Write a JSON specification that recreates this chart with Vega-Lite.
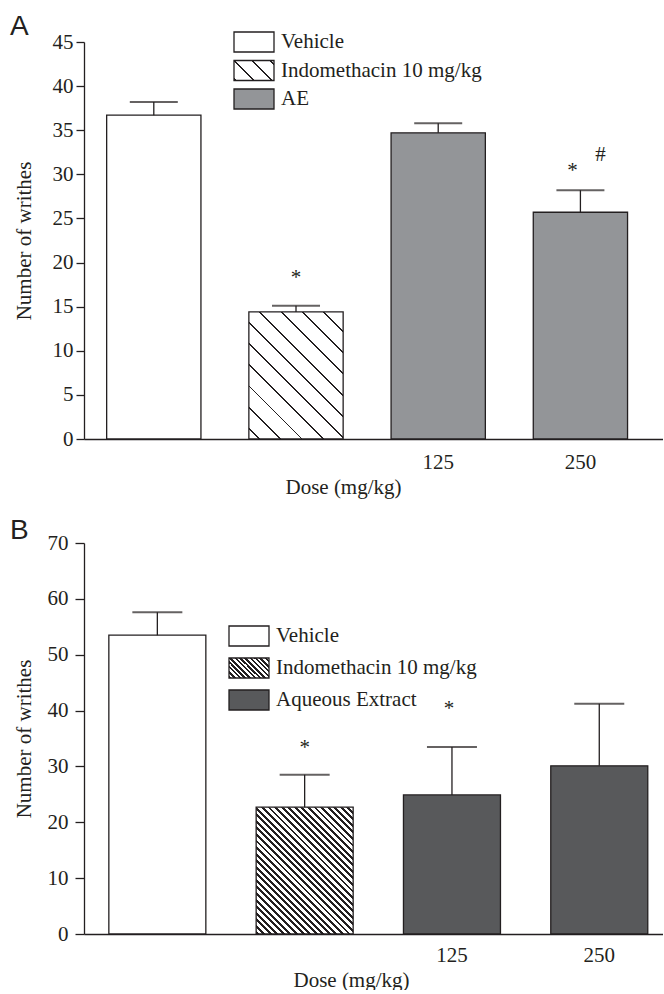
{
"$schema": "https://vega.github.io/schema/vega-lite/v6.json",
"padding": {"left": 10, "top": 13, "right": 0, "bottom": 0},
"spacing": 20,
"resolve": {"scale": {"fill": "independent"}, "legend": {"fill": "independent"}},
"config": {
  "view": {"stroke": null},
  "font": "Liberation Serif",
  "axis": {"labelFont": "Liberation Serif", "labelFontSize": 21, "titleFont": "Liberation Serif", "titleFontSize": 21, "titleFontWeight": "normal", "labelColor": "#231f20", "titleColor": "#231f20", "domainColor": "#231f20", "tickColor": "#231f20", "domainWidth": 1.3, "tickWidth": 1.3, "grid": false},
  "legend": {"labelFont": "Liberation Serif", "labelFontSize": 21, "labelColor": "#231f20", "labelLimit": 400, "symbolType": "M-2,-1H2V1H-2Z", "symbolSize": 400, "symbolStrokeColor": "#231f20", "symbolStrokeWidth": 1.3, "labelOffset": 16, "padding": 0, "orient": "none"},
  "title": {"font": "Liberation Sans", "fontSize": 28, "fontWeight": "normal", "color": "#231f20", "anchor": "start", "frame": "group", "baseline": "alphabetic", "dx": -74}
},
"vconcat": [
{
  "title": {"text": "A", "offset": -10},
  "width": 579, "height": 397,
  "data": {"values": [
    {"g": "Vehicle", "leg": "Vehicle", "m": 36.7, "hi": 38.2},
    {"g": "Indo", "leg": "Indomethacin 10 mg/kg", "m": 14.4, "hi": 15.1},
    {"g": "AE125", "leg": "AE", "m": 34.7, "hi": 35.8},
    {"g": "AE250", "leg": "AE", "m": 25.7, "hi": 28.2}
  ]},
  "encoding": {"x": {"field": "g", "type": "nominal", "scale": {"domain": ["Vehicle", "Indo", "AE125", "AE250"], "paddingInner": 0.337, "paddingOuter": 0.2043, "align": 0.39},
    "axis": {"title": "Dose (mg/kg)", "titleX": 259, "labelAngle": 0, "ticks": false, "labelPadding": 12, "labelExpr": "datum.value === 'AE125' ? '125' : datum.value === 'AE250' ? '250' : ''"}}},
  "layer": [
    {"mark": {"type": "bar", "stroke": "#231f20", "strokeWidth": 1.3},
     "encoding": {
       "y": {"field": "m", "type": "quantitative", "title": "Number of writhes", "scale": {"domain": [0, 45], "nice": false}, "axis": {"values": [0,5,10,15,20,25,30,35,40,45], "tickSize": 8, "labelPadding": 3, "titleX": -60, "titleBaseline": "middle"}},
       "fill": {"field": "leg", "type": "nominal",
         "condition": {"test": "datum.g === 'Indo'", "value": {"gradient": "linear", "x1": 0, "y1": 1, "x2": 1, "y2": -0.347, "stops": [
           {"offset": 0, "color": "#fff"},
           {"offset": 0.0365, "color": "#fff"}, {"offset": 0.0365, "color": "#231f20"}, {"offset": 0.0435, "color": "#231f20"}, {"offset": 0.0435, "color": "#fff"},
           {"offset": 0.1165, "color": "#fff"}, {"offset": 0.1165, "color": "#231f20"}, {"offset": 0.1235, "color": "#231f20"}, {"offset": 0.1235, "color": "#fff"},
           {"offset": 0.1965, "color": "#fff"}, {"offset": 0.1965, "color": "#231f20"}, {"offset": 0.2035, "color": "#231f20"}, {"offset": 0.2035, "color": "#fff"},
           {"offset": 0.2765, "color": "#fff"}, {"offset": 0.2765, "color": "#231f20"}, {"offset": 0.2835, "color": "#231f20"}, {"offset": 0.2835, "color": "#fff"},
           {"offset": 0.3565, "color": "#fff"}, {"offset": 0.3565, "color": "#231f20"}, {"offset": 0.3635, "color": "#231f20"}, {"offset": 0.3635, "color": "#fff"},
           {"offset": 0.4365, "color": "#fff"}, {"offset": 0.4365, "color": "#231f20"}, {"offset": 0.4435, "color": "#231f20"}, {"offset": 0.4435, "color": "#fff"},
           {"offset": 0.5165, "color": "#fff"}, {"offset": 0.5165, "color": "#231f20"}, {"offset": 0.5235, "color": "#231f20"}, {"offset": 0.5235, "color": "#fff"},
           {"offset": 0.5965, "color": "#fff"}, {"offset": 0.5965, "color": "#231f20"}, {"offset": 0.6035, "color": "#231f20"}, {"offset": 0.6035, "color": "#fff"},
           {"offset": 0.6765, "color": "#fff"}, {"offset": 0.6765, "color": "#231f20"}, {"offset": 0.6835, "color": "#231f20"}, {"offset": 0.6835, "color": "#fff"},
           {"offset": 0.7565, "color": "#fff"}, {"offset": 0.7565, "color": "#231f20"}, {"offset": 0.7635, "color": "#231f20"}, {"offset": 0.7635, "color": "#fff"},
           {"offset": 0.8365, "color": "#fff"}, {"offset": 0.8365, "color": "#231f20"}, {"offset": 0.8435, "color": "#231f20"}, {"offset": 0.8435, "color": "#fff"},
           {"offset": 0.9165, "color": "#fff"}, {"offset": 0.9165, "color": "#231f20"}, {"offset": 0.9235, "color": "#231f20"}, {"offset": 0.9235, "color": "#fff"},
           {"offset": 1, "color": "#fff"}]}},
         "scale": {"domain": ["Vehicle", "Indomethacin 10 mg/kg", "AE"], "range": ["#ffffff", {"expr": "{gradient: 'linear', x1: 0, y1: 1, x2: 1.2, y2: 0.4, stops: [{offset: 0, color: '#fff'}, {offset: 0.019, color: '#fff'}, {offset: 0.019, color: '#231f20'}, {offset: 0.047, color: '#231f20'}, {offset: 0.047, color: '#fff'}, {offset: 0.319, color: '#fff'}, {offset: 0.319, color: '#231f20'}, {offset: 0.347, color: '#231f20'}, {offset: 0.347, color: '#fff'}, {offset: 0.619, color: '#fff'}, {offset: 0.619, color: '#231f20'}, {offset: 0.647, color: '#231f20'}, {offset: 0.647, color: '#fff'}, {offset: 0.919, color: '#fff'}, {offset: 0.919, color: '#231f20'}, {offset: 0.947, color: '#231f20'}, {offset: 0.947, color: '#fff'}, {offset: 1, color: '#fff'}]}"}, "#939598"]},
         "legend": {"title": null, "legendX": 159, "legendY": -11, "rowPadding": 2.5}
       }
     }},
    {"mark": {"type": "rule", "color": "#231f20", "strokeWidth": 1.3},
     "encoding": {"y": {"field": "m", "type": "quantitative", "title": "Number of writhes"}, "y2": {"field": "hi"}}},
    {"mark": {"type": "tick", "color": "#231f20", "thickness": 2, "size": 48},
     "encoding": {"y": {"field": "hi", "type": "quantitative", "title": "Number of writhes"}}},
    {"data": {"values": [{"g": "Indo", "pos": 17.6, "txt": "*"}]},
     "mark": {"type": "text", "font": "Liberation Serif", "fontSize": 21, "baseline": "alphabetic", "color": "#231f20"},
     "encoding": {"y": {"field": "pos", "type": "quantitative", "title": "Number of writhes"}, "text": {"field": "txt"}}},
    {"data": {"values": [{"g": "AE250", "pos": 29.7, "txt": "*"}]},
     "mark": {"type": "text", "font": "Liberation Serif", "fontSize": 21, "baseline": "alphabetic", "color": "#231f20", "dx": -8},
     "encoding": {"y": {"field": "pos", "type": "quantitative", "title": "Number of writhes"}, "text": {"field": "txt"}}},
    {"data": {"values": [{"g": "AE250", "pos": 31.5, "txt": "#"}]},
     "mark": {"type": "text", "font": "Liberation Serif", "fontSize": 21, "baseline": "alphabetic", "color": "#231f20", "dx": 20},
     "encoding": {"y": {"field": "pos", "type": "quantitative", "title": "Number of writhes"}, "text": {"field": "txt"}}}
  ]
},
{
  "title": {"text": "B", "offset": -13},
  "width": 579, "height": 391,
  "data": {"values": [
    {"g": "Vehicle", "leg": "Vehicle", "m": 53.5, "hi": 57.6},
    {"g": "Indo", "leg": "Indomethacin 10 mg/kg", "m": 22.7, "hi": 28.5},
    {"g": "AE125", "leg": "Aqueous Extract", "m": 24.9, "hi": 33.5},
    {"g": "AE250", "leg": "Aqueous Extract", "m": 30.1, "hi": 41.2}
  ]},
  "encoding": {"x": {"field": "g", "type": "nominal", "scale": {"domain": ["Vehicle", "Indo", "AE125", "AE250"], "paddingInner": 0.3415, "paddingOuter": 0.136, "align": 0.62},
    "axis": {"title": "Dose (mg/kg)", "titleX": 267, "labelAngle": 0, "ticks": false, "labelPadding": 10, "labelExpr": "datum.value === 'AE125' ? '125' : datum.value === 'AE250' ? '250' : ''"}}},
  "layer": [
    {"mark": {"type": "bar", "stroke": "#231f20", "strokeWidth": 1.3},
     "encoding": {
       "y": {"field": "m", "type": "quantitative", "title": "Number of writhes", "scale": {"domain": [0, 70], "nice": false}, "axis": {"values": [0,5,10,15,20,25,30,35,40,45,50,55,60,65,70], "labelExpr": "datum.value % 10 === 0 ? datum.label : ''", "tickSize": {"condition": {"test": "datum.value % 10 === 0", "value": 9}, "value": 5}, "labelPadding": 7, "titleX": -60, "titleBaseline": "middle"}},
       "fill": {"field": "leg", "type": "nominal",
         "condition": {"test": "datum.g === 'Indo'", "value": {"gradient": "linear", "x1": 0, "y1": 1, "x2": 1, "y2": -0.307, "stops": [
           {"offset": 0, "color": "#231f20"}, {"offset": 0.011, "color": "#231f20"}, {"offset": 0.011, "color": "#fff"}, {"offset": 0.025, "color": "#fff"},
           {"offset": 0.025, "color": "#231f20"}, {"offset": 0.036, "color": "#231f20"}, {"offset": 0.036, "color": "#fff"}, {"offset": 0.05, "color": "#fff"},
           {"offset": 0.05, "color": "#231f20"}, {"offset": 0.061, "color": "#231f20"}, {"offset": 0.061, "color": "#fff"}, {"offset": 0.075, "color": "#fff"},
           {"offset": 0.075, "color": "#231f20"}, {"offset": 0.086, "color": "#231f20"}, {"offset": 0.086, "color": "#fff"}, {"offset": 0.1, "color": "#fff"},
           {"offset": 0.1, "color": "#231f20"}, {"offset": 0.111, "color": "#231f20"}, {"offset": 0.111, "color": "#fff"}, {"offset": 0.125, "color": "#fff"},
           {"offset": 0.125, "color": "#231f20"}, {"offset": 0.136, "color": "#231f20"}, {"offset": 0.136, "color": "#fff"}, {"offset": 0.15, "color": "#fff"},
           {"offset": 0.15, "color": "#231f20"}, {"offset": 0.161, "color": "#231f20"}, {"offset": 0.161, "color": "#fff"}, {"offset": 0.175, "color": "#fff"},
           {"offset": 0.175, "color": "#231f20"}, {"offset": 0.186, "color": "#231f20"}, {"offset": 0.186, "color": "#fff"}, {"offset": 0.2, "color": "#fff"},
           {"offset": 0.2, "color": "#231f20"}, {"offset": 0.211, "color": "#231f20"}, {"offset": 0.211, "color": "#fff"}, {"offset": 0.225, "color": "#fff"},
           {"offset": 0.225, "color": "#231f20"}, {"offset": 0.236, "color": "#231f20"}, {"offset": 0.236, "color": "#fff"}, {"offset": 0.25, "color": "#fff"},
           {"offset": 0.25, "color": "#231f20"}, {"offset": 0.261, "color": "#231f20"}, {"offset": 0.261, "color": "#fff"}, {"offset": 0.275, "color": "#fff"},
           {"offset": 0.275, "color": "#231f20"}, {"offset": 0.286, "color": "#231f20"}, {"offset": 0.286, "color": "#fff"}, {"offset": 0.3, "color": "#fff"},
           {"offset": 0.3, "color": "#231f20"}, {"offset": 0.311, "color": "#231f20"}, {"offset": 0.311, "color": "#fff"}, {"offset": 0.325, "color": "#fff"},
           {"offset": 0.325, "color": "#231f20"}, {"offset": 0.336, "color": "#231f20"}, {"offset": 0.336, "color": "#fff"}, {"offset": 0.35, "color": "#fff"},
           {"offset": 0.35, "color": "#231f20"}, {"offset": 0.361, "color": "#231f20"}, {"offset": 0.361, "color": "#fff"}, {"offset": 0.375, "color": "#fff"},
           {"offset": 0.375, "color": "#231f20"}, {"offset": 0.386, "color": "#231f20"}, {"offset": 0.386, "color": "#fff"}, {"offset": 0.4, "color": "#fff"},
           {"offset": 0.4, "color": "#231f20"}, {"offset": 0.411, "color": "#231f20"}, {"offset": 0.411, "color": "#fff"}, {"offset": 0.425, "color": "#fff"},
           {"offset": 0.425, "color": "#231f20"}, {"offset": 0.436, "color": "#231f20"}, {"offset": 0.436, "color": "#fff"}, {"offset": 0.45, "color": "#fff"},
           {"offset": 0.45, "color": "#231f20"}, {"offset": 0.461, "color": "#231f20"}, {"offset": 0.461, "color": "#fff"}, {"offset": 0.475, "color": "#fff"},
           {"offset": 0.475, "color": "#231f20"}, {"offset": 0.486, "color": "#231f20"}, {"offset": 0.486, "color": "#fff"}, {"offset": 0.5, "color": "#fff"},
           {"offset": 0.5, "color": "#231f20"}, {"offset": 0.511, "color": "#231f20"}, {"offset": 0.511, "color": "#fff"}, {"offset": 0.525, "color": "#fff"},
           {"offset": 0.525, "color": "#231f20"}, {"offset": 0.536, "color": "#231f20"}, {"offset": 0.536, "color": "#fff"}, {"offset": 0.55, "color": "#fff"},
           {"offset": 0.55, "color": "#231f20"}, {"offset": 0.561, "color": "#231f20"}, {"offset": 0.561, "color": "#fff"}, {"offset": 0.575, "color": "#fff"},
           {"offset": 0.575, "color": "#231f20"}, {"offset": 0.586, "color": "#231f20"}, {"offset": 0.586, "color": "#fff"}, {"offset": 0.6, "color": "#fff"},
           {"offset": 0.6, "color": "#231f20"}, {"offset": 0.611, "color": "#231f20"}, {"offset": 0.611, "color": "#fff"}, {"offset": 0.625, "color": "#fff"},
           {"offset": 0.625, "color": "#231f20"}, {"offset": 0.636, "color": "#231f20"}, {"offset": 0.636, "color": "#fff"}, {"offset": 0.65, "color": "#fff"},
           {"offset": 0.65, "color": "#231f20"}, {"offset": 0.661, "color": "#231f20"}, {"offset": 0.661, "color": "#fff"}, {"offset": 0.675, "color": "#fff"},
           {"offset": 0.675, "color": "#231f20"}, {"offset": 0.686, "color": "#231f20"}, {"offset": 0.686, "color": "#fff"}, {"offset": 0.7, "color": "#fff"},
           {"offset": 0.7, "color": "#231f20"}, {"offset": 0.711, "color": "#231f20"}, {"offset": 0.711, "color": "#fff"}, {"offset": 0.725, "color": "#fff"},
           {"offset": 0.725, "color": "#231f20"}, {"offset": 0.736, "color": "#231f20"}, {"offset": 0.736, "color": "#fff"}, {"offset": 0.75, "color": "#fff"},
           {"offset": 0.75, "color": "#231f20"}, {"offset": 0.761, "color": "#231f20"}, {"offset": 0.761, "color": "#fff"}, {"offset": 0.775, "color": "#fff"},
           {"offset": 0.775, "color": "#231f20"}, {"offset": 0.786, "color": "#231f20"}, {"offset": 0.786, "color": "#fff"}, {"offset": 0.8, "color": "#fff"},
           {"offset": 0.8, "color": "#231f20"}, {"offset": 0.811, "color": "#231f20"}, {"offset": 0.811, "color": "#fff"}, {"offset": 0.825, "color": "#fff"},
           {"offset": 0.825, "color": "#231f20"}, {"offset": 0.836, "color": "#231f20"}, {"offset": 0.836, "color": "#fff"}, {"offset": 0.85, "color": "#fff"},
           {"offset": 0.85, "color": "#231f20"}, {"offset": 0.861, "color": "#231f20"}, {"offset": 0.861, "color": "#fff"}, {"offset": 0.875, "color": "#fff"},
           {"offset": 0.875, "color": "#231f20"}, {"offset": 0.886, "color": "#231f20"}, {"offset": 0.886, "color": "#fff"}, {"offset": 1, "color": "#fff"}]}},
         "scale": {"domain": ["Vehicle", "Indomethacin 10 mg/kg", "Aqueous Extract"], "range": ["#ffffff", {"expr": "{gradient: 'linear', x1: 0, y1: 1, x2: 1.2, y2: 0.4, stops: [{offset: 0, color: '#231f20'}, {offset: 0.036, color: '#231f20'}, {offset: 0.036, color: '#fff'}, {offset: 0.0833, color: '#fff'}, {offset: 0.0833, color: '#231f20'}, {offset: 0.1193, color: '#231f20'}, {offset: 0.1193, color: '#fff'}, {offset: 0.1667, color: '#fff'}, {offset: 0.1667, color: '#231f20'}, {offset: 0.2027, color: '#231f20'}, {offset: 0.2027, color: '#fff'}, {offset: 0.25, color: '#fff'}, {offset: 0.25, color: '#231f20'}, {offset: 0.286, color: '#231f20'}, {offset: 0.286, color: '#fff'}, {offset: 0.3333, color: '#fff'}, {offset: 0.3333, color: '#231f20'}, {offset: 0.3693, color: '#231f20'}, {offset: 0.3693, color: '#fff'}, {offset: 0.4167, color: '#fff'}, {offset: 0.4167, color: '#231f20'}, {offset: 0.4527, color: '#231f20'}, {offset: 0.4527, color: '#fff'}, {offset: 0.5, color: '#fff'}, {offset: 0.5, color: '#231f20'}, {offset: 0.536, color: '#231f20'}, {offset: 0.536, color: '#fff'}, {offset: 0.5833, color: '#fff'}, {offset: 0.5833, color: '#231f20'}, {offset: 0.6193, color: '#231f20'}, {offset: 0.6193, color: '#fff'}, {offset: 0.6667, color: '#fff'}, {offset: 0.6667, color: '#231f20'}, {offset: 0.7027, color: '#231f20'}, {offset: 0.7027, color: '#fff'}, {offset: 0.75, color: '#fff'}, {offset: 0.75, color: '#231f20'}, {offset: 0.786, color: '#231f20'}, {offset: 0.786, color: '#fff'}, {offset: 0.8333, color: '#fff'}, {offset: 0.8333, color: '#231f20'}, {offset: 0.8693, color: '#231f20'}, {offset: 0.8693, color: '#fff'}, {offset: 0.9167, color: '#fff'}, {offset: 0.9167, color: '#231f20'}, {offset: 0.9527, color: '#231f20'}, {offset: 0.9527, color: '#fff'}, {offset: 1, color: '#fff'}]}"}, "#58595b"]},
         "legend": {"title": null, "legendX": 154, "legendY": 82, "rowPadding": 6}
       }
     }},
    {"mark": {"type": "rule", "color": "#231f20", "strokeWidth": 1.3},
     "encoding": {"y": {"field": "m", "type": "quantitative", "title": "Number of writhes"}, "y2": {"field": "hi"}}},
    {"mark": {"type": "tick", "color": "#231f20", "thickness": 2, "size": 50},
     "encoding": {"y": {"field": "hi", "type": "quantitative", "title": "Number of writhes"}}},
    {"data": {"values": [{"g": "Indo", "pos": 32.2, "txt": "*"}]},
     "mark": {"type": "text", "font": "Liberation Serif", "fontSize": 21, "baseline": "alphabetic", "color": "#231f20"},
     "encoding": {"y": {"field": "pos", "type": "quantitative", "title": "Number of writhes"}, "text": {"field": "txt"}}},
    {"data": {"values": [{"g": "AE125", "pos": 39.2, "txt": "*"}]},
     "mark": {"type": "text", "font": "Liberation Serif", "fontSize": 21, "baseline": "alphabetic", "color": "#231f20", "dx": -3},
     "encoding": {"y": {"field": "pos", "type": "quantitative", "title": "Number of writhes"}, "text": {"field": "txt"}}}
  ]
}
]
}
